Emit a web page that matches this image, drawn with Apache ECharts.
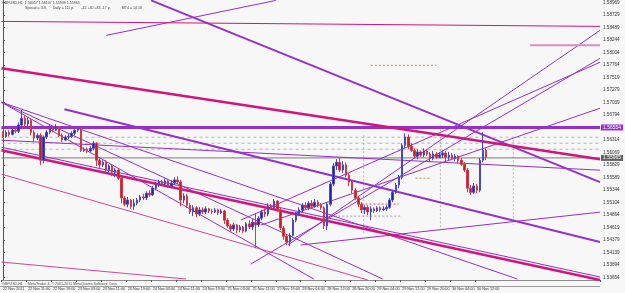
<!DOCTYPE html>
<html><head><meta charset="utf-8">
<script src="https://cdn.jsdelivr.net/npm/echarts@6/dist/echarts.min.js"></script>
<style>html,body{margin:0;padding:0;background:#f7f7f7;}#c{width:625px;height:293px;}</style>
</head><body><div id="c"></div>
<script>
// ---------- data ----------
const headerLine1 = 'GBPUSD,H1  1.56057 1.56107 1.55939 1.55965';
const headerLine2 = 'Spread = 3.8,      Daily = 111 p.       -42 +30 +83 -17 p.           MT4 = 14:18';
const footerText = 'GBPUSD,H1  ·  MetaTrader 4, © 2001-2011 MetaQuotes Software Corp.';

const timeTickLabels = ['22 Nov 2011','22 Nov 11:00','22 Nov 19:00','23 Nov 03:00','23 Nov 11:00','23 Nov 19:00',
 '24 Nov 03:00','24 Nov 11:00','24 Nov 19:00','25 Nov 03:00','25 Nov 11:00','25 Nov 19:00',
 '28 Nov 04:00','28 Nov 12:00','28 Nov 20:00','29 Nov 04:00','29 Nov 12:00','29 Nov 20:00','30 Nov 04:00','30 Nov 12:00'];

const priceTicks = [1.53654,1.53894,1.54139,1.54379,1.54619,1.54864,1.55104,1.55344,1.55589,1.55829,1.56069,
 1.56314,1.56554,1.56794,1.57039,1.57279,1.57519,1.57764,1.58004,1.58244,1.58489,1.58729,1.58969];

// H1 candles: [open, close, low, high]
const candles = [
[1.5644,1.5638,1.5635,1.5648],[1.5638,1.5646,1.5635,1.5650],[1.5646,1.5642,1.5638,1.5650],[1.5642,1.5650,1.5640,1.5654],
[1.5650,1.5648,1.5644,1.5656],[1.5648,1.5660,1.5644,1.5665],[1.5660,1.5673,1.5656,1.5689],[1.5673,1.5662,1.5654,1.5679],
[1.5662,1.5669,1.5658,1.5675],[1.5669,1.5646,1.5640,1.5673],[1.5646,1.5635,1.5627,1.5650],[1.5635,1.5640,1.5631,1.5644],
[1.5640,1.5592,1.5583,1.5644],[1.5592,1.5637,1.5586,1.5640],[1.5637,1.5646,1.5633,1.5650],[1.5646,1.5654,1.5642,1.5660],
[1.5654,1.5650,1.5646,1.5656],[1.5650,1.5656,1.5648,1.5662],[1.5656,1.5640,1.5637,1.5658],[1.5640,1.5631,1.5627,1.5644],
[1.5631,1.5637,1.5629,1.5640],[1.5637,1.5638,1.5633,1.5644],[1.5638,1.5644,1.5635,1.5648],[1.5644,1.5650,1.5640,1.5652],
[1.5650,1.5654,1.5646,1.5656],[1.5654,1.5611,1.5608,1.5656],[1.5611,1.5613,1.5608,1.5617],[1.5613,1.5610,1.5606,1.5617],
[1.5610,1.5615,1.5608,1.5619],[1.5615,1.5625,1.5611,1.5629],[1.5625,1.5592,1.5581,1.5627],[1.5592,1.5583,1.5577,1.5596],
[1.5583,1.5588,1.5579,1.5592],[1.5588,1.5573,1.5569,1.5592],[1.5573,1.5581,1.5567,1.5584],[1.5581,1.5569,1.5561,1.5584],
[1.5569,1.5573,1.5559,1.5577],[1.5573,1.5557,1.5554,1.5575],[1.5557,1.5519,1.5509,1.5561],[1.5519,1.5507,1.5503,1.5523],
[1.5507,1.5515,1.5501,1.5521],[1.5515,1.5503,1.5498,1.5517],[1.5503,1.5509,1.5496,1.5517],[1.5509,1.5515,1.5505,1.5519],
[1.5515,1.5521,1.5511,1.5525],[1.5521,1.5519,1.5515,1.5527],[1.5519,1.5528,1.5515,1.5532],[1.5528,1.5525,1.5521,1.5534],
[1.5525,1.5538,1.5523,1.5542],[1.5538,1.5544,1.5534,1.5550],[1.5544,1.5550,1.5540,1.5554],[1.5550,1.5546,1.5542,1.5554],
[1.5546,1.5552,1.5542,1.5557],[1.5552,1.5542,1.5538,1.5555],[1.5542,1.5548,1.5538,1.5554],[1.5548,1.5554,1.5544,1.5559],
[1.5554,1.5550,1.5546,1.5561],[1.5550,1.5515,1.5503,1.5554],[1.5515,1.5523,1.5509,1.5528],[1.5523,1.5505,1.5500,1.5527],
[1.5505,1.5492,1.5488,1.5509],[1.5492,1.5500,1.5484,1.5505],[1.5500,1.5488,1.5482,1.5503],[1.5488,1.5496,1.5484,1.5501],
[1.5496,1.5492,1.5488,1.5501],[1.5492,1.5498,1.5488,1.5503],[1.5498,1.5494,1.5490,1.5500],[1.5494,1.5492,1.5488,1.5498],
[1.5492,1.5496,1.5490,1.5500],[1.5496,1.5490,1.5486,1.5498],[1.5490,1.5494,1.5488,1.5498],[1.5494,1.5476,1.5469,1.5496],
[1.5476,1.5465,1.5461,1.5480],[1.5465,1.5459,1.5453,1.5469],[1.5459,1.5467,1.5455,1.5471],[1.5467,1.5457,1.5451,1.5469],
[1.5457,1.5463,1.5453,1.5467],[1.5463,1.5455,1.5451,1.5465],[1.5455,1.5469,1.5453,1.5472],[1.5469,1.5463,1.5459,1.5476],
[1.5463,1.5472,1.5457,1.5478],[1.5472,1.5467,1.5422,1.5490],[1.5467,1.5480,1.5463,1.5484],[1.5480,1.5492,1.5476,1.5496],
[1.5492,1.5488,1.5482,1.5498],[1.5488,1.5503,1.5484,1.5509],[1.5503,1.5500,1.5496,1.5507],[1.5500,1.5513,1.5496,1.5517],
[1.5513,1.5496,1.5492,1.5515],[1.5496,1.5461,1.5457,1.5500],[1.5461,1.5445,1.5438,1.5465],[1.5445,1.5434,1.5428,1.5449],
[1.5434,1.5447,1.5426,1.5451],[1.5447,1.5476,1.5444,1.5480],[1.5476,1.5488,1.5472,1.5492],[1.5488,1.5496,1.5484,1.5501],
[1.5496,1.5505,1.5492,1.5509],[1.5505,1.5500,1.5496,1.5511],[1.5500,1.5509,1.5496,1.5513],[1.5509,1.5503,1.5500,1.5515],
[1.5503,1.5511,1.5500,1.5517],[1.5511,1.5505,1.5501,1.5515],[1.5505,1.5500,1.5496,1.5509],[1.5500,1.5465,1.5459,1.5503],
[1.5465,1.5507,1.5457,1.5511],[1.5507,1.5546,1.5503,1.5550],[1.5546,1.5581,1.5542,1.5586],[1.5581,1.5588,1.5573,1.5594],
[1.5588,1.5573,1.5569,1.5596],[1.5573,1.5583,1.5567,1.5590],[1.5583,1.5563,1.5559,1.5588],[1.5563,1.5550,1.5542,1.5567],
[1.5550,1.5534,1.5528,1.5554],[1.5534,1.5519,1.5515,1.5538],[1.5519,1.5507,1.5501,1.5523],[1.5507,1.5496,1.5490,1.5511],
[1.5496,1.5501,1.5488,1.5505],[1.5501,1.5492,1.5486,1.5505],[1.5492,1.5498,1.5476,1.5503],[1.5498,1.5494,1.5490,1.5501],
[1.5494,1.5500,1.5492,1.5503],[1.5500,1.5496,1.5492,1.5503],[1.5496,1.5498,1.5494,1.5503],[1.5498,1.5501,1.5494,1.5505],
[1.5501,1.5515,1.5498,1.5519],[1.5515,1.5530,1.5511,1.5534],[1.5530,1.5544,1.5527,1.5548],[1.5544,1.5559,1.5538,1.5563],
[1.5559,1.5621,1.5555,1.5625],[1.5621,1.5637,1.5615,1.5644],[1.5637,1.5619,1.5613,1.5642],[1.5619,1.5611,1.5608,1.5625],
[1.5611,1.5600,1.5596,1.5615],[1.5600,1.5608,1.5594,1.5613],[1.5608,1.5602,1.5598,1.5611],[1.5602,1.5610,1.5598,1.5615],
[1.5610,1.5604,1.5600,1.5613],[1.5604,1.5596,1.5588,1.5608],[1.5596,1.5604,1.5592,1.5610],[1.5604,1.5598,1.5594,1.5608],
[1.5598,1.5602,1.5596,1.5608],[1.5602,1.5606,1.5596,1.5611],[1.5606,1.5598,1.5588,1.5610],[1.5598,1.5602,1.5592,1.5608],
[1.5602,1.5596,1.5592,1.5606],[1.5596,1.5600,1.5590,1.5604],[1.5600,1.5592,1.5586,1.5602],[1.5592,1.5584,1.5581,1.5596],
[1.5584,1.5573,1.5569,1.5588],[1.5573,1.5538,1.5530,1.5577],[1.5538,1.5530,1.5525,1.5544],[1.5530,1.5542,1.5527,1.5548],
[1.5542,1.5534,1.5528,1.5546],[1.5534,1.5592,1.5530,1.5596],[1.5592,1.5611,1.5588,1.5646],[1.5611,1.5598,1.5592,1.5615]
];

const totalSlots = 192;       // bars + empty right shift
const bidPrice = 1.55965;
const levelPrice = 1.56554;
const dashedLevels = [1.56365, 1.56249, 1.56133];

// trend lines: [[barIndex, price], [barIndex, price]]
const purpleThinA   = [[33.1,1.58333],[87.5,1.59009]];
const purpleThickA  = [[47.5,1.59009],[191.5,1.55497]];
const purpleThickB  = [[19.7,1.56905],[191.5,1.54338]];
const purpleRise1   = [[91.4,1.54281],[191.5,1.58430]];
const purpleRise2   = [[79.5,1.53914],[191.5,1.57890]];
const purpleRise2b  = [[76.3,1.54763],[191.5,1.57813]];
const purpleRise3   = [[82.7,1.54666],[191.5,1.56925]];
const purpleRise4   = [[95.5,1.54281],[191.5,1.54917]];
const purpleFlat    = [[-0.5,1.56307],[191.5,1.55728]];
const purpleFan1    = [[-0.5,1.57041],[99.7,1.53624]];
const purpleFan2    = [[-0.5,1.57041],[121.8,1.53624]];
const purpleFan3    = [[-0.5,1.57041],[165.0,1.53624]];
const purpleLow     = [[-0.5,1.56172],[191.5,1.53663]];
const magentaTop    = [[-0.5,1.58604],[191.5,1.58507]];
const pinkShort     = [[169.1,1.58141],[191.5,1.58141]];
const magentaThickA = [[-0.5,1.57697],[191.5,1.55940]];
const magentaThickB = [[-0.5,1.56114],[191.5,1.53605]];
const magentaThinA  = [[-0.5,1.55651],[117.0,1.53605]];
const magentaThinB  = [[-0.5,1.53952],[58.7,1.53624]];
const orangeLevel   = [[118.0,1.57755],[139.0,1.57755]];
const redDotLevel   = [[115.0,1.55072],[127.0,1.55072]];
const orangeDotLevel= [[132.3,1.55574],[137.2,1.55574]];
const grayDotLevel  = [[96.0,1.54840],[128.0,1.54840]];
const vSeparators   = [[115.7,1.56404,1.54474],[140.3,1.56597,1.54570],[163.7,1.56307,1.54667]];

// ---------- chart ----------
const start = Date.UTC(2011,10,22,3);
const cats = [];
{
  let t = start;
  const mon = ['Jan','Feb','Mar','Apr','May','Jun','Jul','Aug','Sep','Oct','Nov','Dec'];
  for (let i = 0; i < totalSlots; i++) {
    const d = new Date(t);
    cats.push(d.getUTCDate()+' '+mon[d.getUTCMonth()]+' '+String(d.getUTCHours()).padStart(2,'0')+':00');
    t += 3600000;
    const n = new Date(t);
    if (n.getUTCDay() === 5 && n.getUTCHours() === 23) t += 49*3600000; // weekend gap
  }
}
const X0 = -0.5, X1 = totalSlots - 0.5;
const PURPLE = '#9530c8', MAGENTA = '#d0157f', PINK = '#d0459a';
const FONT = 'Liberation Sans';
function seg(pts, color, width, z, type, extra) {
  return Object.assign({ type:'line', xAxisIndex:1, yAxisIndex:0, data:pts, symbol:'none', silent:true,
    clip:true, z:z||3, animation:false, lineStyle:{color:color, width:width, type:type||'solid'} }, extra||{});
}
function boxLabel(v, bg) {
  return { endLabel:{show:true, formatter:v.toFixed(5), color:'#fff', backgroundColor:bg, fontSize:5,
    fontFamily:FONT, padding:[1,2,0,2], distance:1, align:'left'} };
}

const chart = echarts.init(document.getElementById('c'), null, {renderer:'canvas'});
const tickOK = (i) => i % 8 === 0 && i/8 < timeTickLabels.length;
chart.setOption({
  animation:false,
  backgroundColor:'#f7f7f7',
  textStyle:{fontFamily:FONT},
  grid:{left:0, right:25, top:0, bottom:13, show:false},
  xAxis:[{
    type:'category', data:cats, boundaryGap:true,
    axisLine:{show:true, lineStyle:{color:'#8a8a8a', width:1}},
    axisTick:{show:true, interval:tickOK, length:2, lineStyle:{color:'#555'}},
    axisLabel:{show:true, interval:tickOK, formatter:(v,i)=>timeTickLabels[Math.round(i/8)] || '', align:'left',
      fontSize:3.8, color:'#333', margin:7, fontFamily:FONT},
    splitLine:{show:false}
  },{
    type:'value', min:X0, max:X1, show:false
  }],
  yAxis:[{
    type:'value', position:'right', min:1.53605, max:1.59009,
    axisLine:{show:true, lineStyle:{color:'#555', width:1}},
    axisTick:{show:true, length:2, customValues:priceTicks, lineStyle:{color:'#555'}},
    axisLabel:{show:true, customValues:priceTicks, formatter:v=>v.toFixed(5), fontSize:4.6, color:'#333', margin:3, fontFamily:FONT},
    splitLine:{show:false}
  }],
  graphic:[
    {type:'text', left:2, top:1, style:{text:headerLine1, fontSize:3.6, fill:'#444', fontFamily:FONT}},
    {type:'text', left:25, top:6, style:{text:headerLine2, fontSize:3.6, fill:'#444', fontFamily:FONT}},
    {type:'text', left:2, top:281.5, style:{text:footerText, fontSize:3.6, fill:'#555', fontFamily:FONT}},
    {type:'line', shape:{x1:0,y1:286.5,x2:600,y2:286.5}, style:{stroke:'#9a9a9a', lineWidth:1}}
  ],
  series:[
    {
      type:'candlestick', data:candles, xAxisIndex:0, yAxisIndex:0, barWidth:2, z:5,
      itemStyle:{color:'#2222aa', color0:'#cc2020', borderColor:'#4848c0', borderColor0:'#d03848', borderWidth:1}
    },
    ...dashedLevels.map(v => seg([[X0,v],[X1,v]], '#b4b4b4', 1, 2, [3,3])),
    ...vSeparators.map(s => seg([[s[0],s[1]],[s[0],s[2]]], '#b4b4b4', 1, 2, [2,2])),
    seg(redDotLevel, '#e05050', 1, 2, [2,2]),
    seg(orangeDotLevel, '#e08a30', 1, 2, [2,2]),
    seg(grayDotLevel, '#a0a0a0', 1, 2, [2,2]),
    seg([[X0,bidPrice],[X1,bidPrice]], '#7a7a7a', 1, 2, 'solid', boxLabel(bidPrice, '#606060')),
    seg([[X0,levelPrice],[X1,levelPrice]], PURPLE, 3, 3, 'solid', boxLabel(levelPrice, PURPLE)),
    seg(purpleThinA, PURPLE, 1),
    seg(purpleThickA, PURPLE, 2),
    seg(purpleThickB, PURPLE, 2),
    seg(purpleRise1, PURPLE, 1),
    seg(purpleRise2, PURPLE, 1),
    seg(purpleRise2b, PURPLE, 1),
    seg(purpleRise3, PURPLE, 1),
    seg(purpleRise4, PURPLE, 1),
    seg(purpleFlat, PURPLE, 1),
    seg(purpleFan1, PURPLE, 1),
    seg(purpleFan2, PURPLE, 1),
    seg(purpleFan3, PURPLE, 1),
    seg(purpleLow, PURPLE, 1),
    seg(magentaTop, MAGENTA, 1),
    seg(pinkShort, '#d78fc0', 2),
    seg(magentaThickA, MAGENTA, 2.5),
    seg(magentaThickB, MAGENTA, 2.5),
    seg(magentaThinA, PINK, 1),
    seg(magentaThinB, PINK, 1),
    seg(orangeLevel, '#e08a30', 1, 3, [2,2])
  ]
});
</script></body></html>
